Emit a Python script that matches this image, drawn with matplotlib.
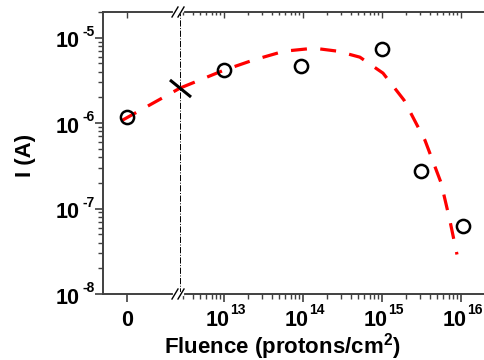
import matplotlib
matplotlib.use("Agg")
import matplotlib.pyplot as plt
from matplotlib.ticker import FixedLocator, LogLocator, NullFormatter

plt.rcParams['font.family'] = 'Liberation Sans'
plt.rcParams['font.weight'] = 'bold'
plt.rcParams['mathtext.fontset'] = 'custom'
plt.rcParams['mathtext.rm'] = 'Liberation Sans:bold'
plt.rcParams['mathtext.it'] = 'Liberation Sans:bold'
plt.rcParams['mathtext.bf'] = 'Liberation Sans:bold'

# measured points
zero_x = [0]
zero_i = [1.17e-6]
fluence = [1e13, 9.5e13, 1e15, 3.1e15, 1.05e16]
current = [4.2e-6, 4.7e-6, 7.3e-6, 2.75e-7, 6.3e-8]

# fit curve
fit_left_x = [-0.2, 2.2]
fit_left_i = [1.08e-6, 2.57e-6]
fit_x = [2.77e12, 1e13, 2.33e13, 5.75e13, 1.38e14, 2.76e14, 5.25e14, 1.03e15,
         1.9e15, 3.5e15, 5.6e15, 7.2e15, 8.9e15]
fit_i = [2.57e-6, 4.17e-6, 5.46e-6, 6.95e-6, 7.54e-6, 6.95e-6, 5.92e-6, 3.85e-6,
         1.86e-6, 6.3e-7, 2.0e-7, 7.4e-8, 2.9e-8]

y_ticks = [1e-8, 1e-7, 1e-6, 1e-5]
y_exps = ['-8', '-7', '-6', '-5']
x_ticks = [1e13, 1e14, 1e15, 1e16]
x_exps = ['13', '14', '15', '16']

W, H = 485, 360
PT = 0.72  # points per pixel at 100 dpi
BIG, SMALL = 15.5, 10

fig = plt.figure(figsize=(W / 100, H / 100), dpi=100)
bottom, height = (H - 294) / H, 282 / H
ax_l = fig.add_axes([103 / W, bottom, 77 / W, height])
ax_r = fig.add_axes([180 / W, bottom, 305 / W, height], sharey=ax_l)
ax_r.patch.set_visible(False)

spine_c = '#404040'
dash = (0, (5, 4.2))
for ax in (ax_l, ax_r):
    ax.set_yscale('log')
    ax.set_ylim(1e-8, 2e-5)
    for s in ax.spines.values():
        s.set_color(spine_c)
        s.set_linewidth(1.4)
    ax.spines['right'].set_visible(False)
    ax.tick_params(which='both', colors=spine_c, labelbottom=False, labelleft=False)
    ax.tick_params(which='major', length=6, width=1.2)
    ax.tick_params(which='minor', length=3.5, width=1.0)

ax_r.spines['left'].set_visible(False)

# left panel: zero fluence
ax_l.set_xlim(-1, 2.2)
ax_l.set_xticks([0])
ax_l.set_yticks(y_ticks)
ax_l.yaxis.set_minor_locator(LogLocator(base=10, subs=range(2, 10)))
ax_l.yaxis.set_minor_formatter(NullFormatter())
ax_l.plot(fit_left_x, fit_left_i, color='#ff0000', lw=2.3, linestyle=dash, zorder=2)
ax_l.plot(zero_x, zero_i, 'o', ms=9.5, mfc='none', mec='black', mew=1.8, zorder=3)
ax_l.axvline(2.2, color='black', lw=0.7, linestyle='-.', clip_on=False)

# right panel: log fluence
ax_r.set_xscale('log')
ax_r.set_xlim(10 ** 12.443, 10 ** 16.304)
ax_r.xaxis.set_major_locator(FixedLocator(x_ticks))
ax_r.xaxis.set_minor_locator(LogLocator(base=10, subs=range(2, 10)))
ax_r.xaxis.set_minor_formatter(NullFormatter())
ax_r.tick_params(axis='y', which='both', left=False)
ax_r.plot(fit_x, fit_i, color='#ff0000', lw=2.3, linestyle=dash, zorder=2)
ax_r.plot(fluence, current, 'o', ms=9.5, mfc='none', mec='black', mew=1.8, zorder=3)
# slash across the fit curve at the break
ax_r.plot(fit_x[:1], fit_i[:1], marker=(2, 0, 51), ms=19.5, mec='black', mew=2.2,
          linestyle='none', clip_on=False, zorder=4)

# inward ticks along the top
for ax in (ax_l, ax_r):
    top = ax.twiny()
    top.set_xscale(ax.get_xscale())
    top.set_xlim(ax.get_xlim())
    for s in top.spines.values():
        s.set_visible(False)
    top.tick_params(which='both', direction='in', colors=spine_c, labeltop=False)
    top.tick_params(which='major', length=4, width=1.0)
    top.tick_params(which='minor', length=2.5, width=1.0)
    if ax is ax_l:
        top.set_xticks([0])
    else:
        top.xaxis.set_major_locator(FixedLocator(x_ticks))
        top.xaxis.set_minor_locator(LogLocator(base=10, subs=range(2, 10)))
        top.xaxis.set_minor_formatter(NullFormatter())

# tick labels: "10" with a small exponent
ax_l.annotate('0', xy=(0, 0), xycoords=('data', 'axes fraction'),
              xytext=(0, -32 * PT), textcoords='offset points',
              ha='center', va='baseline', fontsize=BIG)
for t, e in zip(x_ticks, x_exps):
    ax_r.annotate('10', xy=(t, 0), xycoords=('data', 'axes fraction'),
                  xytext=(-6.5 * PT, -32 * PT), textcoords='offset points',
                  ha='center', va='baseline', fontsize=BIG, annotation_clip=False)
    ax_r.annotate(e, xy=(t, 0), xycoords=('data', 'axes fraction'),
                  xytext=(6.5 * PT, -20.5 * PT), textcoords='offset points',
                  ha='left', va='baseline', fontsize=SMALL, annotation_clip=False)
for t, e in zip(y_ticks, y_exps):
    ax_l.annotate('10', xy=(0, t), xycoords=('axes fraction', 'data'),
                  xytext=(-23 * PT, -9.5 * PT), textcoords='offset points',
                  ha='right', va='baseline', fontsize=BIG)
    ax_l.annotate(e, xy=(0, t), xycoords=('axes fraction', 'data'),
                  xytext=(-20.5 * PT, 2 * PT), textcoords='offset points',
                  ha='left', va='baseline', fontsize=SMALL)

# break marks on top and bottom spines
px = 1 / 305.0
py = 1 / 282.0
for yb in (0, 1):
    ax_r.plot([-5 * px, 2 * px], [yb, yb], color='white', lw=3,
              transform=ax_r.transAxes, clip_on=False, zorder=5)
    for off in (-5, 1):
        ax_r.plot([(off - 3) * px, (off + 3) * px], [yb - 5 * py, yb + 5 * py],
                  color='black', lw=1.0, transform=ax_r.transAxes,
                  clip_on=False, zorder=6)

fig.text(26 / W, 1 - 155 / H, 'I (A)', rotation=90, ha='center', va='center',
         fontsize=16, fontweight='bold')
fig.text(282 / W, 7 / H, 'Fluence (protons/cm$^2$)', ha='center', va='baseline',
         fontsize=16, fontweight='bold')

fig.savefig('out.png', dpi=100)
